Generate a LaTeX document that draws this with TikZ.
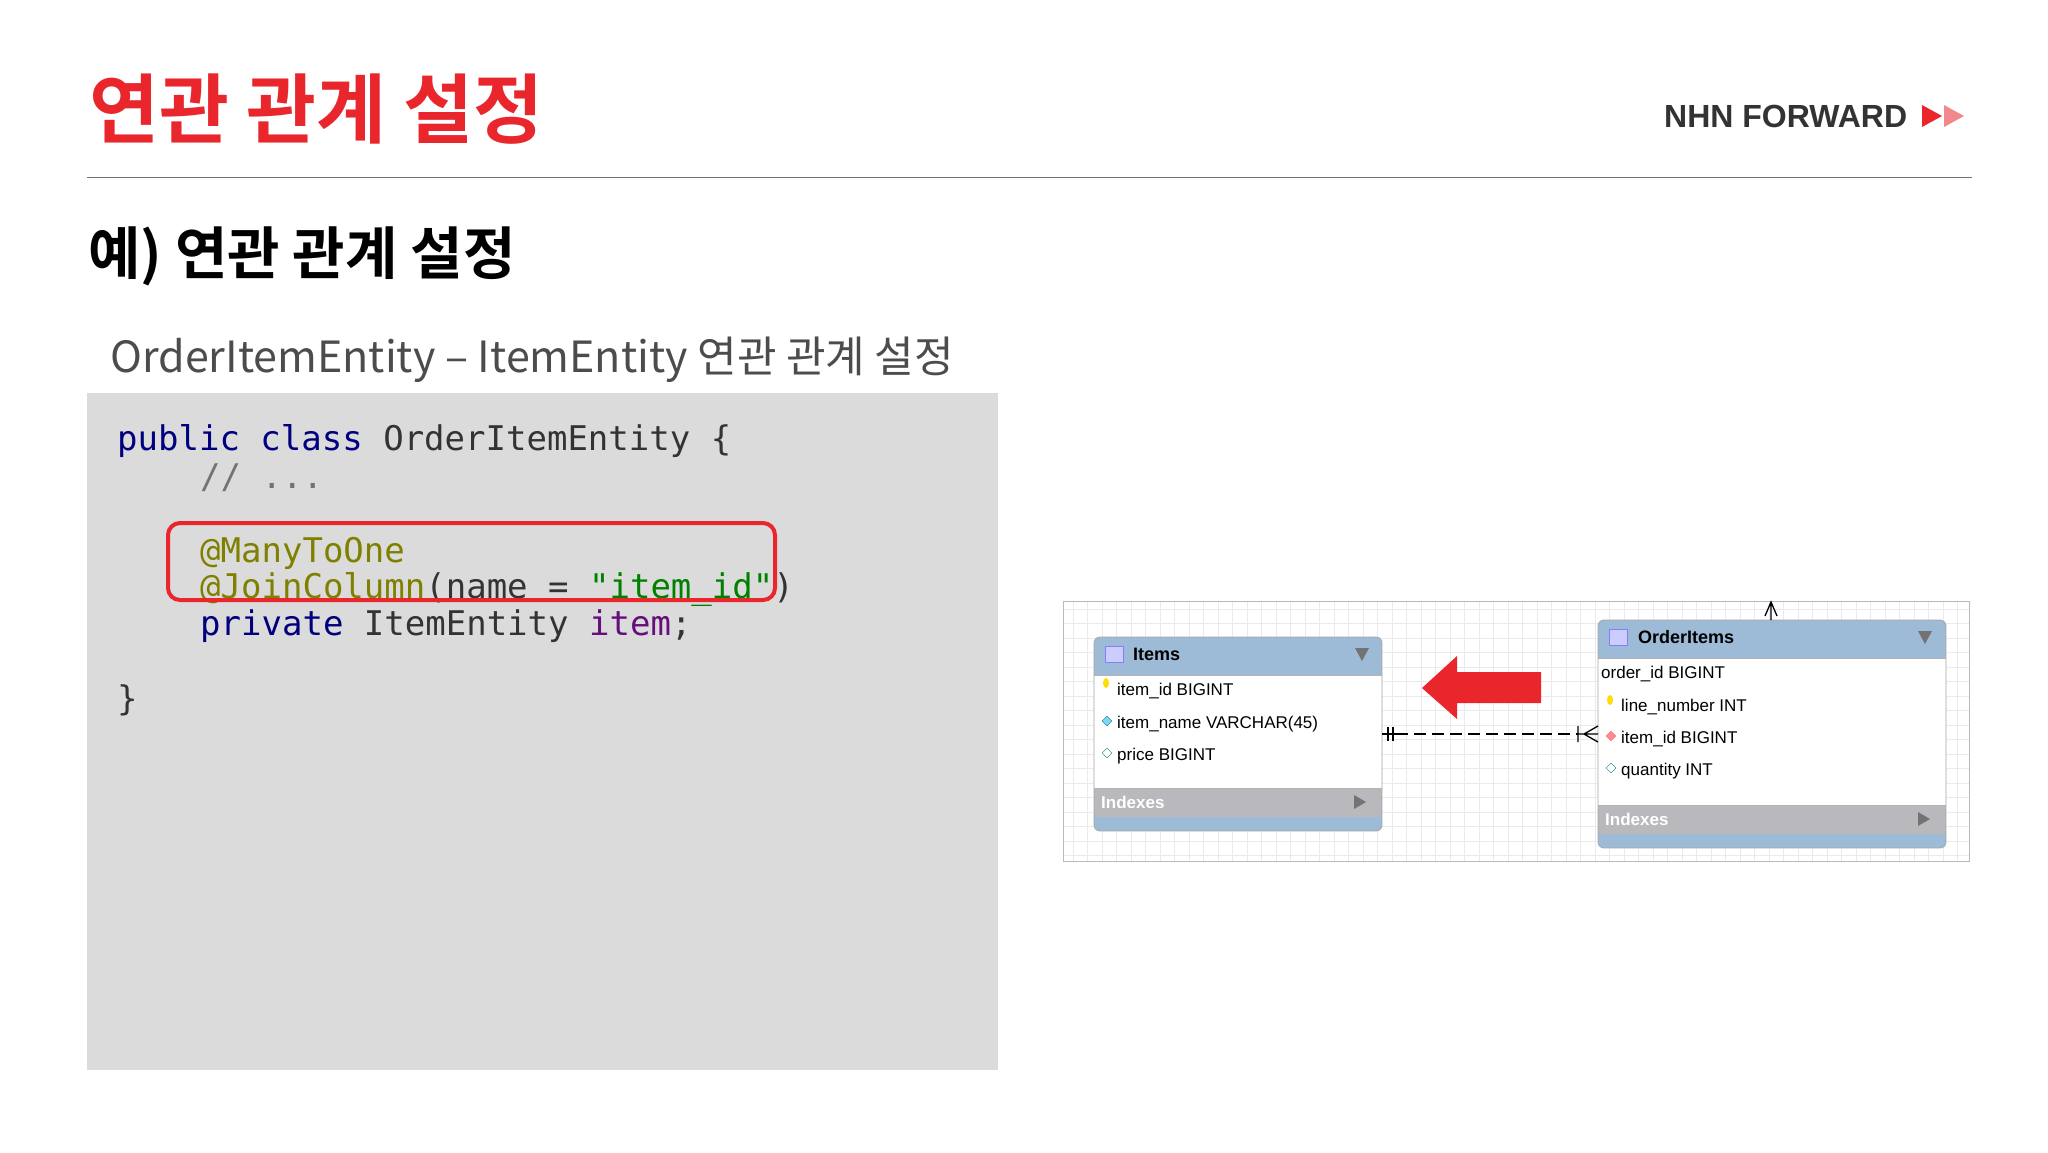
\documentclass[tikz,border=0pt]{standalone}
\usepackage{fontspec}
\setmainfont{Liberation Sans}
\newfontfamily\kr{Noto Sans CJK KR}
\newfontfamily\krb{Noto Sans CJK KR Bold}
\newfontfamily\codef{DejaVu Sans Mono}
\usetikzlibrary{shapes.geometric}
\definecolor{nred}{HTML}{E8262C}
\definecolor{codebg}{HTML}{DCDBDC}
\definecolor{kw}{HTML}{00007F}
\definecolor{ann}{HTML}{808000}
\definecolor{str}{HTML}{008000}
\definecolor{fld}{HTML}{660E7A}
\definecolor{hdr}{HTML}{9DBBD6}
\definecolor{idx}{HTML}{B9B9BD}
\definecolor{gridc}{HTML}{E9E9EE}
\tikzset{codeline/.style={anchor=base west,inner sep=0pt,font=\codef\fontsize{34}{34}\selectfont,text=black!80},
 row/.style={anchor=base west,inner sep=0pt,font=\fontsize{17}{17}\selectfont},
 tbl/.style={draw=black!35,line width=0.8pt,rounded corners=6pt}}
\begin{document}
\begin{tikzpicture}[x=1pt,y=-1pt]
\useasboundingbox (0,0) rectangle (2048,1152);
\fill[white] (0,0) rectangle (2048,1152);
% header
\node[anchor=base west,inner sep=0pt,text=nred,font=\krb\fontsize{76}{76}\selectfont] (title) at (89,137) {연관 관계 설정};
\node[anchor=base west,inner sep=0pt,text=black!80,font=\fontsize{32}{32}\selectfont\bfseries] (brand) at (1664,127) {NHN FORWARD};
\fill[nred] (1922,105) -- (1942,116) -- (1922,127) -- cycle;
\fill[nred!55] (1944,105) -- (1964,116) -- (1944,127) -- cycle;
\draw[black!55,line width=1pt] (87,177) -- (1972,177);
\node[anchor=base west,inner sep=0pt,font=\krb\fontsize{57}{57}\selectfont] (sub) at (88,274) {예) 연관 관계 설정};
\node[anchor=base west,inner sep=0pt,text=black!70,font=\kr\fontsize{43}{43}\selectfont] (cap) at (110,372) {OrderItemEntity – ItemEntity 연관 관계 설정};
% code
\fill[codebg] (87,393) rectangle (998,1070);
\node[codeline] (l1) at (117,450) {\textcolor{kw}{public class} OrderItemEntity \{};
\node[codeline,text=black!55] (l2) at (200,488) {// ...};
\node[codeline,text=ann] (l3) at (200,562) {@ManyToOne};
\node[codeline] (l4) at (200,598) {\textcolor{ann}{@JoinColumn}(name = \textcolor{str}{"item\_id"})};
\node[codeline] (l5) at (200,635) {\textcolor{kw}{private} ItemEntity \textcolor{fld}{item};};
\node[codeline] (l6) at (117,710) {\}};
\draw[nred,line width=4pt,rounded corners=12pt] (168,523) rectangle (775,600);
% ER grid
\draw[gridc,line width=0.6pt,step=14.5pt] (1063,601) grid (1969,861);
\draw[gridc!80!black,line width=0.6pt] (1063,601) rectangle (1969,861);
% Items table
\begin{scope}
\clip[rounded corners=6pt] (1094,637) rectangle (1382,831);
\fill[white] (1094,637) rectangle (1382,831);
\fill[hdr] (1094,637) rectangle (1382,675);
\fill[idx] (1094,788) rectangle (1382,817);
\fill[hdr] (1094,817) rectangle (1382,831);
\end{scope}
\draw[tbl] (1094,637) rectangle (1382,831);
\draw[black!30] (1094,675) -- (1382,675) (1094,788) -- (1382,788);
\node[draw=blue!50,fill=blue!20,minimum width=18pt,minimum height=16pt,inner sep=0pt] (ic1) at (1114,654) {};
\node[row,font=\fontsize{18}{18}\selectfont\bfseries] (items) at (1133,660) {Items};
\fill[black!55] (1355,648) -- (1369,648) -- (1362,661) -- cycle;
\node[row] (r1) at (1117,695) {item\_id BIGINT};
\node[row] (r2) at (1117,728) {item\_name VARCHAR(45)};
\node[row] (r3) at (1117,760) {price BIGINT};
\fill[yellow!80!orange] (1106,683) ellipse (3pt and 5pt);
\node[diamond,draw=teal,fill=cyan!50,inner sep=2.5pt] at (1107,721) {};
\node[diamond,draw=teal,fill=white,inner sep=2.5pt] at (1107,753) {};
\node[row,text=white,font=\fontsize{17}{17}\selectfont\bfseries] (ix1) at (1101,808) {Indexes};
\fill[black!55] (1354,795) -- (1366,802) -- (1354,809) -- cycle;
% OrderItems table
\begin{scope}
\clip[rounded corners=6pt] (1598,620) rectangle (1946,848);
\fill[white] (1598,620) rectangle (1946,848);
\fill[hdr] (1598,620) rectangle (1946,658);
\fill[idx] (1598,805) rectangle (1946,834);
\fill[hdr] (1598,834) rectangle (1946,848);
\end{scope}
\draw[tbl] (1598,620) rectangle (1946,848);
\draw[black!30] (1598,658) -- (1946,658) (1598,805) -- (1946,805);
\node[draw=blue!50,fill=blue!20,minimum width=18pt,minimum height=16pt,inner sep=0pt] (ic2) at (1618,637) {};
\node[row,font=\fontsize{18}{18}\selectfont\bfseries] (oitems) at (1638,643) {OrderItems};
\fill[black!55] (1918,631) -- (1932,631) -- (1925,644) -- cycle;
\node[row] (o1) at (1601,678) {order\_id BIGINT};
\node[row] (o2) at (1621,711) {line\_number INT};
\node[row] (o3) at (1621,743) {item\_id BIGINT};
\node[row] (o4) at (1621,775) {quantity INT};
\fill[yellow!80!orange] (1610,700) ellipse (3pt and 5pt);
\node[diamond,draw=red!60,fill=red!45,inner sep=2.5pt] at (1611,736) {};
\node[diamond,draw=teal,fill=white,inner sep=2.5pt] at (1611,768) {};
\node[row,text=white,font=\fontsize{17}{17}\selectfont\bfseries] (ix2) at (1605,825) {Indexes};
\fill[black!55] (1918,812) -- (1930,819) -- (1918,826) -- cycle;
% relation
\coordinate (ra) at (1382,734);
\coordinate (rb) at (1598,734);
\draw[line width=1.3pt,dash pattern=on 12pt off 6pt] (1396,734) -- (1578,734);
\draw[line width=1.3pt] (ra) -- (1396,734) (1388,727) -- (1388,741) (1393,727) -- (1393,741);
\draw[line width=1.3pt] (1578,734) -- (rb) (1578,726) -- (1578,742) (1598,726) -- (1584,734) -- (1598,742);
\draw[line width=1.3pt] (1765,616) -- (1771,602) -- (1777,616) (1771,602) -- (1771,620);
% red arrow
\fill[nred] (1422,688) -- (1457,656) -- (1457,672) -- (1541,672) -- (1541,703) -- (1457,703) -- (1457,719) -- cycle;
\end{tikzpicture}
\end{document}
